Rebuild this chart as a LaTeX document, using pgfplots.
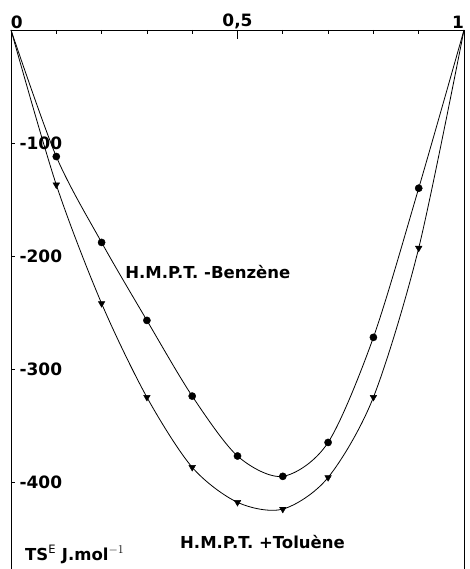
\documentclass[border=0pt]{standalone}
\usepackage{fontspec}
\setmainfont{DejaVu Sans}
\usepackage{pgfplots}
\pgfplotsset{compat=1.18}
\pgfplotstableread{
x y
0 0
0.1 -112
0.2 -188
0.3 -257
0.4 -324
0.5 -377
0.6 -395
0.7 -365
0.8 -272
0.9 -140
1 0
}\benzene
\pgfplotstableread{
x y
0 0
0.1 -137
0.2 -242
0.3 -325
0.4 -387
0.5 -418
0.6 -424
0.7 -396
0.8 -325
0.9 -193
1 0
}\toluene
\pgfplotstableread{
x y
0.1 -112
0.2 -188
0.3 -257
0.4 -324
0.5 -377
0.6 -395
0.7 -365
0.8 -272
0.9 -140
}\benzenepts
\pgfplotstableread{
x y
0.1 -137
0.2 -242
0.3 -325
0.4 -387
0.5 -418
0.6 -424
0.7 -396
0.8 -325
0.9 -193
}\toluenepts
\begin{document}
\begin{tikzpicture}
\begin{axis}[
  scale only axis, width=453pt, height=539pt,
  xmin=0, xmax=1, ymin=-477, ymax=0,
  axis x line=top, axis y line=box,
  axis line style={-, line width=0.9pt},
  tick align=inside,
  major tick length=4pt, minor tick length=4pt,
  tick style={line width=0.8pt, black},
  xtick={0,1}, xticklabels={\phantom{0}0,1\phantom{1}},
  extra x ticks={0.5}, extra x tick labels={0{,}5},
  extra x tick style={major tick length=9pt},
  minor xtick={0.1,0.2,0.3,0.4,0.6,0.7,0.8,0.9},
  ytick={-100,-200,-300,-400}, yticklabels={-100,-200,-300,-400},
  ytick pos=left,
  xticklabel style={font=\fontsize{17}{17}\selectfont\bfseries, anchor=south, yshift=-2pt},
  yticklabel style={font=\fontsize{17}{17}\selectfont\bfseries, anchor=west, xshift=5pt},
  clip=false,
]
\addplot[black, line width=0.8pt, smooth, tension=0.5] table {\benzene};
\addplot[black, line width=0.8pt, smooth, tension=0.5] table {\toluene};
\addplot[only marks, mark=*, mark size=3.6pt, black] table {\benzenepts};
\addplot[only marks, mark=triangle*, mark size=3.8pt, mark options={rotate=180}, black] table {\toluenepts};
\node[anchor=west, font=\fontsize{16.5}{16.5}\selectfont\bfseries, inner sep=0pt] at (axis cs:0.252,-214) {H.M.P.T. -Benzène};
\node[anchor=west, font=\fontsize{16.5}{16.5}\selectfont\bfseries, inner sep=0pt] at (axis cs:0.373,-453) {H.M.P.T. +Toluène};
\node[anchor=west, font=\fontsize{16.5}{16.5}\selectfont\bfseries, inner sep=0pt] at (axis cs:0.031,-464) {TS$^{\mathrm{E}}$ J.mol$^{-1}$};
\end{axis}
\pgfresetboundingbox
\path[use as bounding box] ([xshift=-11pt]current axis.south west) rectangle ([xshift=5pt,yshift=30pt]current axis.north east);
\end{tikzpicture}
\end{document}
